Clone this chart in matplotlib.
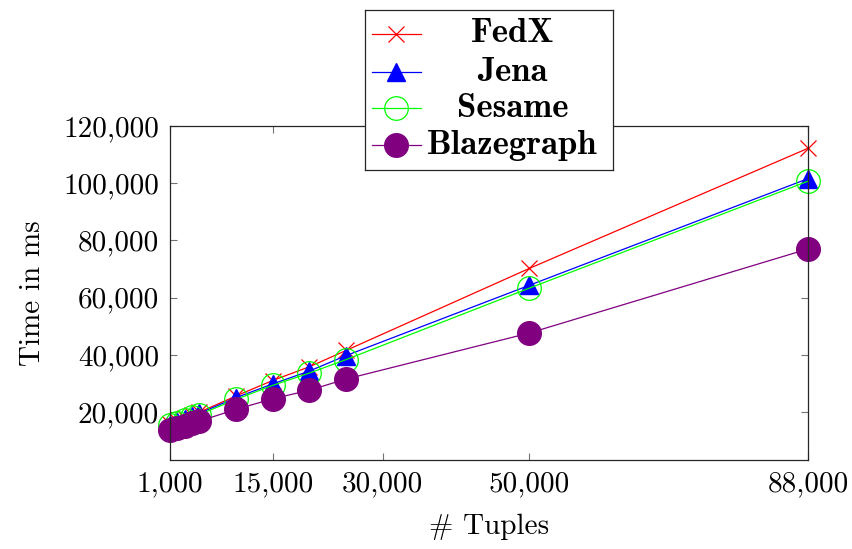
import matplotlib.pyplot as plt
from matplotlib.ticker import FuncFormatter

# datos
tuples = [1000, 2000, 3000, 4000, 5000, 10000, 15000, 20000, 25000, 50000, 88000]
fedx = [15800, 16900, 17900, 18900, 19900, 25600, 31000, 35800, 41500, 70200, 112200]
jena = [15600, 16600, 17600, 18600, 19500, 25000, 29800, 34300, 39700, 64300, 101600]
sesame = [15300, 16300, 17200, 18200, 19100, 24400, 29300, 33600, 38300, 63300, 100700]
blazegraph = [13700, 14500, 15200, 16000, 16800, 20900, 24600, 27600, 31500, 47600, 77000]

x_ticks = [1000, 15000, 30000, 50000, 88000]
y_ticks = [20000, 40000, 60000, 80000, 100000, 120000]

names = ["FedX", "Jena", "Sesame", "Blazegraph"]
series = [fedx, jena, sesame, blazegraph]
styles = [
    dict(color="red", marker="x", ms=11, mew=0.9),
    dict(color="blue", marker="^", ms=13, mfc="blue"),
    dict(color="#00ff00", marker="o", ms=17, mfc="none", mew=0.9),
    dict(color="purple", marker="o", ms=17, mfc="purple"),
]

plt.rcParams["font.family"] = "cmr10"
plt.rcParams["axes.formatter.use_mathtext"] = True

fig = plt.figure(figsize=(8.52, 5.49), dpi=100)
ax = fig.add_axes([170 / 852, 1 - 460 / 549, 638 / 852, 334 / 549])

for y, st in zip(series, styles):
    ax.plot(tuples, y, lw=0.9, clip_on=False, **st)

ax.set_xlim(1000, 88000)
ax.set_ylim(3200, 120000)
ax.set_xticks(x_ticks)
ax.set_yticks(y_ticks)
fmt = FuncFormatter(lambda v, p: "{:,}".format(int(v)))
ax.xaxis.set_major_formatter(fmt)
ax.yaxis.set_major_formatter(fmt)
ax.tick_params(direction="in", length=5, width=0.8, color="0.45",
               top=True, right=True, labelsize=21, pad=8)
for s in ax.spines.values():
    s.set_linewidth(0.9)
    s.set_color("0.15")

ax.set_xlabel("# Tuples", fontsize=21, labelpad=12)
ax.set_ylabel("Time in ms", fontsize=21, labelpad=12)

# leyenda dibujada a mano (texto centrado como en pgfplots)
lax = fig.add_axes([365 / 852, 1 - 170 / 549, 248 / 852, 160 / 549])
lax.set_xlim(0, 1)
lax.set_ylim(0, 1)
lax.set_xticks([])
lax.set_yticks([])
for s in lax.spines.values():
    s.set_linewidth(0.9)
    s.set_color("0.15")
rows = [0.85, 0.61, 0.385, 0.155]
for name, st, yr in zip(names, styles, rows):
    lax.plot([0.03, 0.225], [yr, yr], lw=0.9, color=st["color"])
    lax.plot([0.125], [yr], ls="none", **st)
    lax.text(0.595, yr, name, fontsize=25, family="cmb10",
             ha="center", va="center")

fig.savefig("out.png", dpi=100)
